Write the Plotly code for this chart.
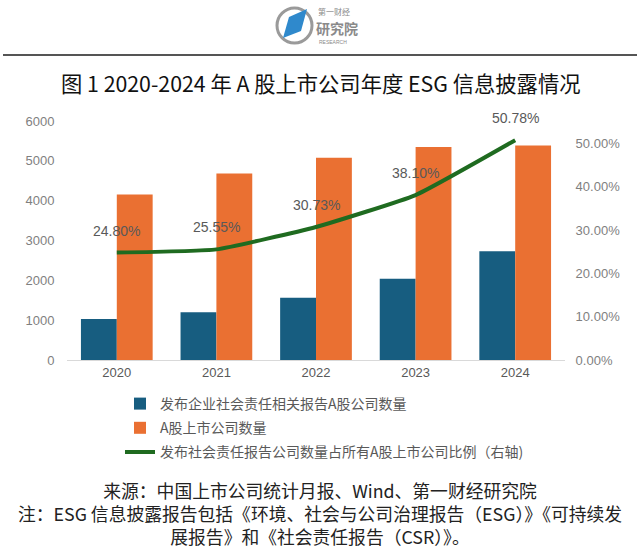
import plotly.graph_objects as go

years = ["2020", "2021", "2022", "2023", "2024"]
csr_companies = [1030, 1197, 1561, 2037, 2733]
listed_companies = [4154, 4685, 5079, 5346, 5383]
csr_ratio = [0.2480, 0.2555, 0.3073, 0.3810, 0.5078]

name_blue = "发布企业社会责任相关报告A股公司数量"
name_orange = "A股上市公司数量"
name_green = "发布社会责任报告公司数量占所有A股上市公司比例（右轴)"
title_text = "图 1 2020-2024 年 A 股上市公司年度 ESG 信息披露情况"
source_text = "来源：中国上市公司统计月报、Wind、第一财经研究院"
note_line1 = "注：ESG 信息披露报告包括《环境、社会与公司治理报告（ESG）》《可持续发"
note_line2 = "展报告》和《社会责任报告（CSR）》。"

W, H = 640, 552
L, R, T, B = 67, 75, 121, 192
PW, PH = W - L - R, H - T - B


def px(x):
    return (x - L) / PW


def py(y):
    return (H - B - y) / PH


CJK = "Noto Sans CJK SC"
NUM = "Liberation Sans, Arial, sans-serif"

fig = go.Figure()
fig.add_trace(go.Bar(x=years, y=csr_companies, name=name_blue, legendgroup="a",
                     marker=dict(color="#175d80", line=dict(width=0))))
fig.add_trace(go.Bar(x=years, y=listed_companies, name=name_orange, legendgroup="b",
                     marker=dict(color="#ea7032", line=dict(width=0))))
fig.add_trace(go.Scatter(x=years, y=csr_ratio, name=name_green, yaxis="y2", legendgroup="c",
                         mode="lines", line=dict(color="#1f6b20", width=4, shape="spline", smoothing=0.4)))

annotations = []
for i, r in enumerate(csr_ratio):
    annotations.append(dict(x=i, y=r, xref="x", yref="y2", text=f"{r*100:.2f}%",
                            showarrow=False, yshift=22,
                            font=dict(family=NUM, size=14, color="#595959")))

TXT = "#222222"
annotations += [
    dict(x=px(320), y=py(82), xref="paper", yref="paper", text=title_text, showarrow=False,
         xanchor="center", yanchor="middle", font=dict(family=CJK, size=21.3, color="#111111")),
    dict(x=px(320), y=py(513), xref="paper", yref="paper",
         text="<br>".join([source_text, note_line1, note_line2]), showarrow=False, align="center",
         xanchor="center", yanchor="middle", font=dict(family=CJK, size=17.8, color=TXT)),
    # logo text
    dict(x=px(316), y=py(11), xref="paper", yref="paper", text="第一财经", showarrow=False,
         xanchor="left", yanchor="middle", font=dict(family=CJK, size=8, color="#8a8a8a")),
    dict(x=px(314), y=py(28), xref="paper", yref="paper", text="<b>研究院</b>", showarrow=False,
         xanchor="left", yanchor="middle", font=dict(family=CJK, size=14, color="#8a8a8a")),
    dict(x=px(317), y=py(42), xref="paper", yref="paper", text="RESEARCH", showarrow=False,
         xanchor="left", yanchor="middle", font=dict(family=NUM, size=5, color="#8a8a8a")),
]


def path(points):
    return "M " + " L ".join(f"{px(a):.5f},{py(b):.5f}" for a, b in points) + " Z"


shapes = [
    dict(type="line", xref="paper", yref="paper", x0=px(3), x1=px(637), y0=py(55), y1=py(55),
         line=dict(color="#555555", width=2)),
    dict(type="circle", xref="paper", yref="paper", x0=px(277), x1=px(312), y0=py(43), y1=py(8),
         line=dict(color="#9a9a9a", width=3)),
    dict(type="path", xref="paper", yref="paper", path=path([(283, 38), (289, 17), (307, 9), (301, 31)]),
         fillcolor="#2f89cc", line=dict(width=0)),
]

fig.update_layout(
    width=W, height=H,
    margin=dict(l=L, r=R, t=T, b=B),
    paper_bgcolor="white", plot_bgcolor="white",
    barmode="group", bargap=0.28, bargroupgap=0,
    showlegend=True,
    legend=dict(x=px(120), y=py(388), xanchor="left", yanchor="top", orientation="v",
                font=dict(family=CJK, size=14, color="#595959"), bgcolor="rgba(0,0,0,0)",
                itemwidth=30, tracegroupgap=3),
    xaxis=dict(type="category", showline=True, linecolor="#d9d9d9", linewidth=1,
               ticks="", showgrid=False,
               tickfont=dict(family=NUM, size=13, color="#595959")),
    yaxis=dict(range=[0, 6000], dtick=1000, showgrid=False, zeroline=False, showline=False,
               ticks="outside", ticklen=9, tickcolor="rgba(0,0,0,0)", tickformat="d",
               tickfont=dict(family=NUM, size=13, color="#7f7f7f")),
    yaxis2=dict(range=[0, 0.552], dtick=0.1, overlaying="y", side="right", showgrid=False,
                zeroline=False, showline=False, ticks="outside", ticklen=7,
                tickcolor="rgba(0,0,0,0)", tickformat=".2%",
                tickfont=dict(family=NUM, size=13, color="#7f7f7f")),
    annotations=annotations,
    shapes=shapes,
)

fig.write_html("out.html", config={"displayModeBar": False},
               post_script="document.body.style.margin='0';document.body.style.overflow='hidden';")
